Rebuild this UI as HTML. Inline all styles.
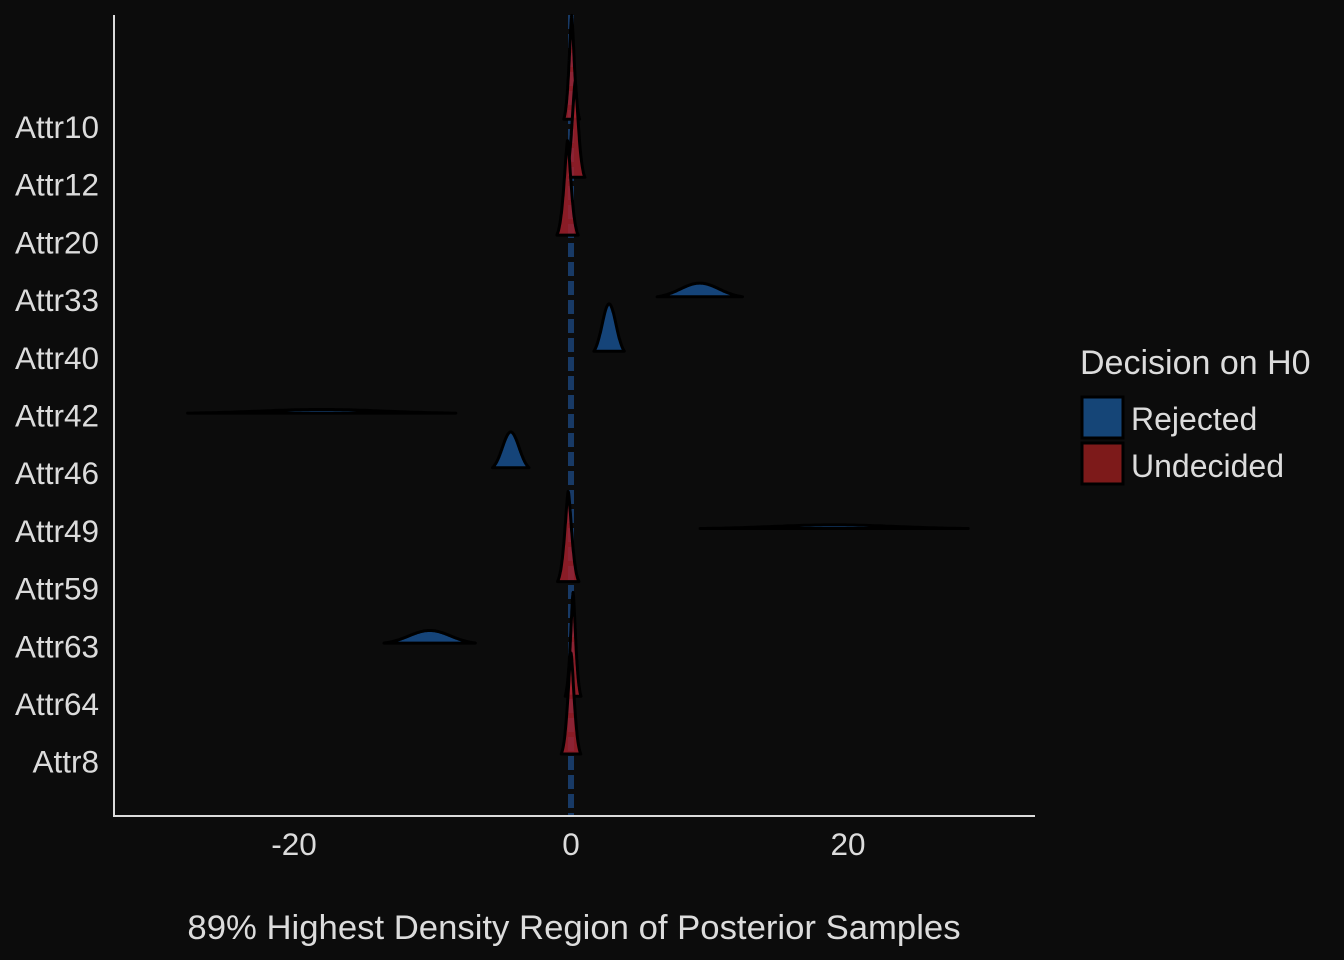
<!DOCTYPE html>
<html><head><meta charset="utf-8"><style>
body{margin:0;background:#0c0c0c;}
svg{display:block;font-family:"Liberation Sans",sans-serif;}
</style></head><body>
<svg id="chart" width="1344" height="960" viewBox="0 0 1344 960">
<rect x="0" y="0" width="1344" height="960" fill="#0c0c0c"/>
<g id="ridges"></g>
<g id="axes"></g>
<text x="574" y="939" fill="#dcdcdc" font-size="34.7" text-anchor="middle">89% Highest Density Region of Posterior Samples</text>
<g>
<text x="1080" y="374" fill="#dcdcdc" font-size="34">Decision on H0</text>
<g>
<rect x="1082" y="397" width="41" height="41" fill="#154577" stroke="#000" stroke-width="3"/>
<text x="1131" y="430" fill="#dcdcdc" font-size="32">Rejected</text></g>
<g>
<rect x="1082" y="443" width="41" height="41" fill="#7d1a1a" stroke="#000" stroke-width="3"/>
<text x="1131" y="477" fill="#dcdcdc" font-size="32">Undecided</text></g>
</g>
</svg>
<script>
const categories=["Attr10","Attr12","Attr20","Attr33","Attr40","Attr42","Attr46","Attr49","Attr59","Attr63","Attr64","Attr8"];
const means=[0.05,0.3,-0.25,9.3,2.75,-18,-4.35,19,-0.2,-10.2,0.15,0];
const sds=[0.26,0.32,0.35,1.4,0.5,4.4,0.6,4.4,0.35,1.5,0.26,0.32];
const peaks=[1.9,1.75,1.73,0.26,0.9,0.07,0.68,0.07,1.65,0.24,1.9,1.85];
const decisions=["Undecided","Undecided","Undecided","Rejected","Rejected","Rejected","Rejected","Rejected","Undecided","Rejected","Undecided","Undecided"];
const xTicks=[-20,0,20];
const NS="http://www.w3.org/2000/svg";
const xS=v=>571+v*13.85;
const yS=i=>127+i*57.7;
const step=57.7;
const ridges=document.getElementById('ridges'),axes=document.getElementById('axes');
function mk(t,a,p){const e=document.createElementNS(NS,t);for(const k in a)e.setAttribute(k,a[k]);p.appendChild(e);return e;}
const zl=mk('line',{x1:xS(0),x2:xS(0),y1:15,y2:815,stroke:'#183a66','stroke-width':6,'stroke-dasharray':'14 5'},ridges);


for(let i=0;i<categories.length;i++){
  const m=means[i],s=sds[i],h=peaks[i]*step,b=yS(i)-2;
  const rej=decisions[i]==='Rejected';
  const ex=rej?2:1.5, c=rej?0.5:0.9;
  let d='';const n=100;
  for(let k=0;k<=n;k++){const v=m-2.2*s+4.4*s*k/n;const z=Math.abs((v-m)/s);const y=b-h*Math.exp(-c*Math.pow(z,ex));d+=(k?'L':'M')+xS(v).toFixed(1)+' '+y.toFixed(1);}
  d+='Z';
  const p=mk('path',{d:d,fill:rej?'rgba(22,72,128,0.95)':'rgba(160,32,44,0.85)',stroke:'#000','stroke-width':3,'stroke-linejoin':'round'},ridges);
  
  
  const t=mk('text',{x:99,y:yS(i)+11,fill:'#dcdcdc','font-size':31.5,'text-anchor':'end'},axes);
  t.textContent=categories[i];
  
  
}
const ya=mk('line',{x1:114,x2:114,y1:15,y2:816,stroke:'#dcdcdc','stroke-width':2},axes);


const xa=mk('line',{x1:113,x2:1035,y1:816,y2:816,stroke:'#dcdcdc','stroke-width':2},axes);


xTicks.forEach(v=>{
  const t=mk('text',{x:xS(v),y:855,fill:'#dcdcdc','font-size':31.5,'text-anchor':'middle'},axes);
  t.textContent=v;
  
  
});
</script>
</body></html>
